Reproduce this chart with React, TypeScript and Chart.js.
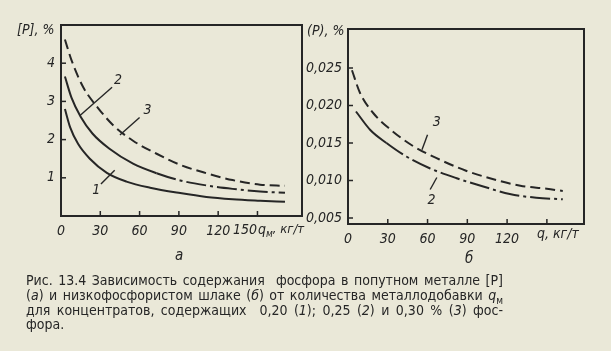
import React, { useEffect, useRef } from "react";
import { Chart, registerables } from "chart.js";

Chart.register(...registerables);

// ---------- data ----------
// Panel а: [P] in by-product metal, % vs q_м, кг/т
const qA1 = [3, 7, 13, 22, 35, 50, 68, 91, 111, 131, 152, 171];
const pA1 = [2.8, 2.32, 1.89, 1.5, 1.13, 0.9, 0.74, 0.6, 0.5, 0.44, 0.4, 0.37];
const qA2 = [3, 8, 15, 24, 37, 55, 73, 91, 111, 131, 152, 171];
const pA2 = [3.65, 3.1, 2.6, 2.16, 1.76, 1.37, 1.12, 0.93, 0.8, 0.71, 0.64, 0.61];
const qA3 = [3, 8, 17, 28, 40, 55, 73, 91, 111, 131, 152, 171];
const pA3 = [4.62, 4.08, 3.37, 2.84, 2.37, 1.97, 1.63, 1.34, 1.12, 0.94, 0.82, 0.79];

// Panel б: (P) in low-phosphorus slag, % vs q, кг/т
const qB2 = [6, 17, 29, 44, 62, 82, 102, 122, 142, 162];
const pB2 = [0.0192, 0.0167, 0.015, 0.0132, 0.0116, 0.0103, 0.0092, 0.0082, 0.0077, 0.0075];
const qB3 = [3, 9, 19, 32, 49, 69, 89, 109, 130, 150, 162];
const pB3 = [0.0247, 0.0217, 0.019, 0.0168, 0.0146, 0.0128, 0.0113, 0.0102, 0.0093, 0.0089, 0.0086];

const xTicksA = [0, 30, 60, 90, 120, 150];
const yTicksA = [1, 2, 3, 4];
const xTicksB = [0, 30, 60, 90, 120, 150];
const yTicksB = [0.005, 0.01, 0.015, 0.02, 0.025];

// curve number labels with leader lines, in data units
const notesA = [
  { text: "2", at: [43.5, 3.55], from: [14.5, 2.63], to: [39, 3.37] },
  { text: "3", at: [66, 2.76], from: [45, 2.12], to: [60, 2.58] },
  { text: "1", at: [27, 0.66], from: [30.5, 0.84], to: [41, 1.2] },
];
const notesB = [
  { text: "3", at: [67, 0.0177], from: [55.8, 0.0141], to: [60, 0.0161] },
  { text: "2", at: [63, 0.0073], from: [62, 0.0088], to: [67, 0.0104] },
];

// ---------- style ----------
const BG = "#eae8d8";
const INK = "#262626";
const FONT = '"Liberation Sans Narrow", "DejaVu Sans Condensed", Roboto, "Liberation Sans", sans-serif';
const tickFont = { family: FONT, size: 14, style: "italic" as const };

const pts = (xs: number[], ys: number[]) => xs.map((x, i) => ({ x, y: ys[i] }));

function framePlugin(cfg: any) {
  return {
    id: "frame",
    afterDraw(chart: any) {
      const { ctx, chartArea: a, scales } = chart;
      const x = scales.x, y = scales.y;
      ctx.save();
      ctx.strokeStyle = INK;
      ctx.fillStyle = INK;
      ctx.lineWidth = 2;
      ctx.strokeRect(a.left, a.top, a.right - a.left, a.bottom - a.top);
      ctx.lineWidth = 1.5;
      const seg = (x1: number, y1: number, x2: number, y2: number) => {
        ctx.beginPath();
        ctx.moveTo(x1, y1);
        ctx.lineTo(x2, y2);
        ctx.stroke();
      };
      cfg.yMarks.forEach((v: number) => {
        const py = y.getPixelForValue(v);
        seg(a.left, py, a.left + 5, py);
      });
      cfg.xMarks.forEach((v: number) => {
        const px = x.getPixelForValue(v);
        seg(px, a.bottom, px, a.bottom - 5);
      });
      ctx.font = `italic 14px ${FONT}`;
      ctx.textAlign = "center";
      ctx.textBaseline = "middle";
      cfg.notes.forEach((n: any) => {
        ctx.lineWidth = 1.4;
        seg(
          x.getPixelForValue(n.from[0]), y.getPixelForValue(n.from[1]),
          x.getPixelForValue(n.to[0]), y.getPixelForValue(n.to[1])
        );
        ctx.fillText(n.text, x.getPixelForValue(n.at[0]), y.getPixelForValue(n.at[1]));
      });
      // y-axis title
      ctx.textAlign = "left";
      ctx.fillText(cfg.yTitle, a.left + cfg.yTitleDx, a.top + cfg.yTitleDy);
      // x-axis title (optionally preceded by a shifted last tick label)
      let tx = a.right + cfg.xTitleDx;
      const ty = a.bottom + cfg.xTitleDy;
      if (cfg.lastTick !== undefined) {
        ctx.textAlign = "right";
        ctx.fillText(String(cfg.lastTick), tx - 1, ty);
        ctx.textAlign = "left";
      }
      ctx.fillText("q", tx, ty);
      tx += ctx.measureText("q").width;
      if (cfg.xSub) {
        ctx.font = `italic 10px ${FONT}`;
        ctx.fillText(cfg.xSub, tx, ty + 4);
        tx += ctx.measureText(cfg.xSub).width;
        ctx.font = `italic 13px ${FONT}`;
      }
      ctx.fillText(", кг/т", tx, ty);
      ctx.restore();
    },
  };
}

function makeChart(canvas: HTMLCanvasElement, o: any) {
  return new Chart(canvas, {
    type: "line",
    data: { datasets: o.datasets },
    options: {
      animation: false,
      responsive: false,
      maintainAspectRatio: false,
      layout: { padding: { left: 0, top: o.top, right: o.right, bottom: 0 } },
      plugins: { legend: { display: false }, tooltip: { enabled: false } },
      elements: { point: { radius: 0 } },
      scales: {
        x: {
          type: "linear",
          min: 0,
          max: o.xMax,
          grid: { display: false, drawTicks: false },
          border: { display: false },
          afterBuildTicks: (s: any) => {
            s.ticks = o.xTicks.map((v: number) => ({ value: v }));
          },
          afterFit: (s: any) => {
            s.height = o.xH;
          },
          ticks: {
            padding: 7,
            color: INK,
            font: tickFont,
            maxRotation: 0,
            autoSkip: false,
            callback: (v: any) => (o.xHide.includes(v) ? "" : String(v)),
          },
        },
        y: {
          type: "linear",
          min: o.yMin,
          max: o.yMax,
          grid: { display: false, drawTicks: false },
          border: { display: false },
          afterBuildTicks: (s: any) => {
            s.ticks = o.yTicks.map((v: number) => ({ value: v }));
          },
          afterFit: (s: any) => {
            s.width = o.yW;
          },
          ticks: {
            padding: 6,
            color: INK,
            font: tickFont,
            autoSkip: false,
            callback: o.yFmt,
          },
        },
      },
    },
    plugins: [framePlugin(o.frame)],
  } as any);
}

const lineBase = {
  borderColor: INK,
  borderWidth: 2,
  pointRadius: 0,
  fill: false,
  cubicInterpolationMode: "monotone",
};

export default function App() {
  const refA = useRef<HTMLCanvasElement>(null);
  const refB = useRef<HTMLCanvasElement>(null);

  useEffect(() => {
    const chA = makeChart(refA.current!, {
      top: 25,
      right: 325 - 302,
      xH: 250 - 216,
      yW: 61,
      xMax: 184,
      yMin: 0,
      yMax: 5,
      xTicks: xTicksA,
      yTicks: yTicksA,
      xHide: [150],
      yFmt: (v: any) => String(v),
      datasets: [
        { ...lineBase, data: pts(qA1, pA1) },
        {
          ...lineBase,
          data: pts(qA2, pA2),
          segment: { borderDash: (c: any) => (c.p0.parsed.x < 60 ? [] : [20, 4, 3, 4]) },
        },
        { ...lineBase, data: pts(qA3, pA3), borderDash: [10, 5] },
      ],
      frame: {
        yMarks: yTicksA,
        xMarks: [30, 60, 90, 120, 150],
        notes: notesA,
        yTitle: "[P], %",
        yTitleDx: -44,
        yTitleDy: 5,
        xTitleDx: -44,
        xTitleDy: 14,
        xSub: "м",
        lastTick: xTicksA[xTicksA.length - 1],
      },
    });
    const chB = makeChart(refB.current!, {
      top: 29,
      right: 313 - 286,
      xH: 250 - 224,
      yW: 50,
      xMax: 178,
      yMin: 0.0042,
      yMax: 0.0302,
      xTicks: xTicksB,
      yTicks: yTicksB,
      xHide: [150],
      yFmt: (v: any) => Number(v).toFixed(3).replace(".", ","),
      datasets: [
        {
          ...lineBase,
          data: pts(qB2, pB2),
          segment: { borderDash: (c: any) => (c.p0.parsed.x < 25 ? [] : [20, 4, 3, 4]) },
        },
        { ...lineBase, data: pts(qB3, pB3), borderDash: [10, 5] },
      ],
      frame: {
        yMarks: yTicksB,
        xMarks: [30, 60, 90, 120, 150],
        notes: notesB,
        yTitle: "(P), %",
        yTitleDx: -41,
        yTitleDy: 2,
        xTitleDx: -47,
        xTitleDy: 10,
        xSub: "",
      },
    });
    return () => {
      chA.destroy();
      chB.destroy();
    };
  }, []);

  const capFont = '"Liberation Sans Narrow", "DejaVu Sans Condensed", Roboto, "Liberation Sans", sans-serif';
  const line = (top: number, justify: boolean): React.CSSProperties => ({
    position: "absolute",
    left: 26,
    top,
    width: justify ? 477 : undefined,
    fontFamily: capFont,
    fontSize: 14,
    lineHeight: "15px",
    color: INK,
    textAlign: justify ? "justify" : "left",
    textAlignLast: justify ? "justify" : "auto",
  } as any);
  const it: React.CSSProperties = { fontStyle: "italic" };

  return (
    <div
      style={{
        position: "fixed",
        left: 0,
        top: 0,
        width: 611,
        height: 351,
        background: BG,
        overflow: "hidden",
      }}
    >
      <canvas
        ref={refA}
        width={325}
        height={250}
        style={{ position: "absolute", left: 0, top: 0, width: 325, height: 250 }}
      />
      <canvas
        ref={refB}
        width={313}
        height={250}
        style={{ position: "absolute", left: 298, top: 0, width: 313, height: 250 }}
      />
      <div style={{ position: "absolute", left: 175, top: 246, fontFamily: capFont, fontSize: 15, fontStyle: "italic", color: INK }}>а</div>
      <div style={{ position: "absolute", left: 465, top: 249, fontFamily: capFont, fontSize: 15, fontStyle: "italic", color: INK }}>б</div>
      <div style={line(273, true)}>Рис. 13.4 Зависимость содержания&nbsp; фосфора в попутном металле [P]</div>
      <div style={line(288, true)}>
        (<span style={it}>а</span>) и низкофосфористом шлаке (<span style={it}>б</span>) от количества металлодобавки{" "}
        <span style={it}>q</span>
        <sub style={{ fontSize: 10 }}>м</sub>
      </div>
      <div style={line(303, true)}>
        для концентратов, содержащих&nbsp; 0,20 (<span style={it}>1</span>); 0,25 (<span style={it}>2</span>) и 0,30 % (<span style={it}>3</span>) фос-
      </div>
      <div style={line(317, false)}>фора.</div>
    </div>
  );
}
